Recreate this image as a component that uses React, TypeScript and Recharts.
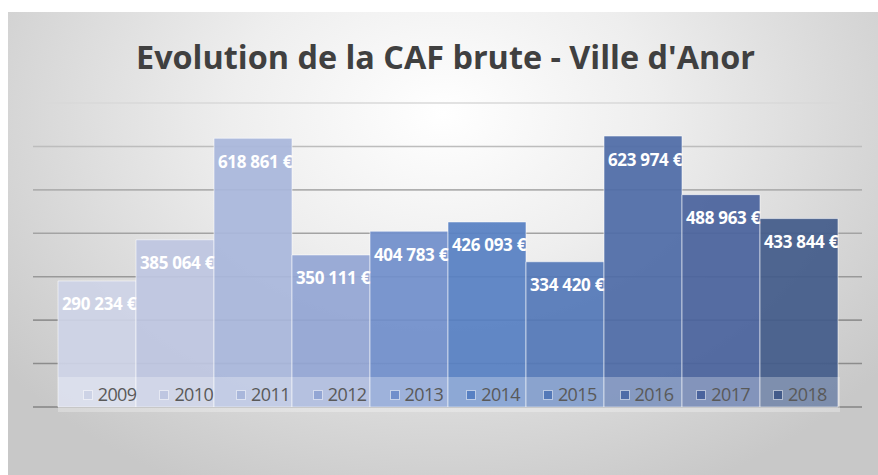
import React from "react";
import { BarChart, Bar, XAxis, YAxis, CartesianGrid, LabelList, Legend } from "recharts";

const title = "Evolution de la CAF brute - Ville d'Anor";
const years = ["2009", "2010", "2011", "2012", "2013", "2014", "2015", "2016", "2017", "2018"];
const values = [290234, 385064, 618861, 350111, 404783, 426093, 334420, 623974, 488963, 433844];
const colors = ["#cdd3e6", "#bec6e1", "#a9b7db", "#93a6d4", "#718fcb", "#5780c3", "#5479b8", "#4f6ca7", "#4a639d", "#435b8a"];
const yTicks = [0, 100000, 200000, 300000, 400000, 500000, 600000, 700000];
const category = "CAF brute";

const row: Record<string, string | number> = { name: category };
years.forEach((y, i) => {
  row[y] = values[i];
});
const data = [row];

const fmt = (v: number) => {
  const s = Math.round(v).toString();
  return s.replace(/\B(?=(\d{3})+(?!\d))/g, " ") + " €";
};

const W = 870;
const H = 463;

const renderLabel = (props: any) => {
  const { x, y, width, value } = props;
  return (
    <text
      x={Number(x) + Number(width) / 2 + 2}
      y={Number(y) + 23}
      fill="#ffffff"
      textAnchor="middle"
      dominantBaseline="central"
      style={{ fontFamily: "'Open Sans', sans-serif", fontWeight: 700, fontSize: 17, letterSpacing: -0.3 }}
    >
      {fmt(Number(value))}
    </text>
  );
};

const shades = ["#858585", "#8c8c8c", "#929292", "#999999", "#a3a3a3", "#afafaf", "#bdbdbd", "#d8d8d8"];

const gridLine = (props: any) => {
  const { x1, x2, y1, y2, index } = props;
  const c = shades[Math.min(shades.length - 1, Math.max(0, index ?? 0))] || "#a0a0a0";
  return <line key={`g-${index}-${y1}`} x1={x1} x2={x2} y1={y1} y2={y2} stroke={c} strokeWidth={1.6} />;
};

const LegendContent = () => (
  <div
    style={{
      width: 782,
      height: 35,
      background: "rgba(255,255,255,0.28)",
      position: "relative",
      fontFamily: "'Open Sans', sans-serif",
      fontSize: 18,
      color: "#595959",
    }}
  >
    {years.map((y, i) => (
      <div
        key={y}
        style={{
          position: "absolute",
          left: 24.7 + i * 76.7,
          top: 0,
          height: 35,
          display: "flex",
          alignItems: "center",
        }}
      >
        <span
          style={{
            display: "inline-block",
            width: 8,
            height: 8,
            background: colors[i],
            border: "1px solid rgba(255,255,255,0.6)",
            marginRight: 5,
          }}
        />
        <span style={{ lineHeight: "35px", letterSpacing: -0.6 }}>{y}</span>
      </div>
    ))}
  </div>
);

export default function App() {
  return (
    <div style={{ position: "relative", width: 878, height: 475, overflow: "hidden", background: "#ffffff" }}>
      <style>{`body{margin:0}`}</style>
      <div
        style={{
          position: "absolute",
          left: 8,
          top: 12,
          width: W,
          height: H,
          background:
            "radial-gradient(ellipse 64% 90% at 50% 22%, #ffffff 0%, #eeeeee 38%, #d9d9d9 72%, #c8c8c8 100%)",
        }}
      >
        <svg width={W} height={H} style={{ position: "absolute", left: 0, top: 0 }}>
          <text
            x={437.5}
            y={56.5}
            textAnchor="middle"
            fill="#404040"
            textLength={619}
            lengthAdjust="spacingAndGlyphs"
            style={{ fontFamily: "'Open Sans', sans-serif", fontWeight: 700, fontSize: 32 }}
          >
            {title}
          </text>
        </svg>
        <div style={{ position: "absolute", left: 0, top: 0 }}>
          <BarChart
            width={W}
            height={H}
            data={data}
            margin={{ top: 91, right: 16, bottom: 68, left: 25 }}
            barGap={0}
            barCategoryGap={25}
          >
            <CartesianGrid vertical={false} horizontal={gridLine} />
            <XAxis dataKey="name" hide />
            <YAxis hide domain={[0, 700000]} ticks={yTicks} />
            {years.map((y, i) => (
              <Bar
                key={y}
                dataKey={y}
                name={y}
                fill={colors[i]}
                fillOpacity={0.93}
                stroke="rgba(255,255,255,0.55)"
                strokeWidth={1}
                isAnimationActive={false}
              >
                <LabelList dataKey={y} content={renderLabel} />
              </Bar>
            ))}
            <Legend
              layout="horizontal"
              verticalAlign="middle"
              align="center"
              content={<LegendContent />}
              wrapperStyle={{ position: "absolute", left: 50, top: 365, width: 782, height: 35 }}
            />
          </BarChart>
        </div>
      </div>
    </div>
  );
}
